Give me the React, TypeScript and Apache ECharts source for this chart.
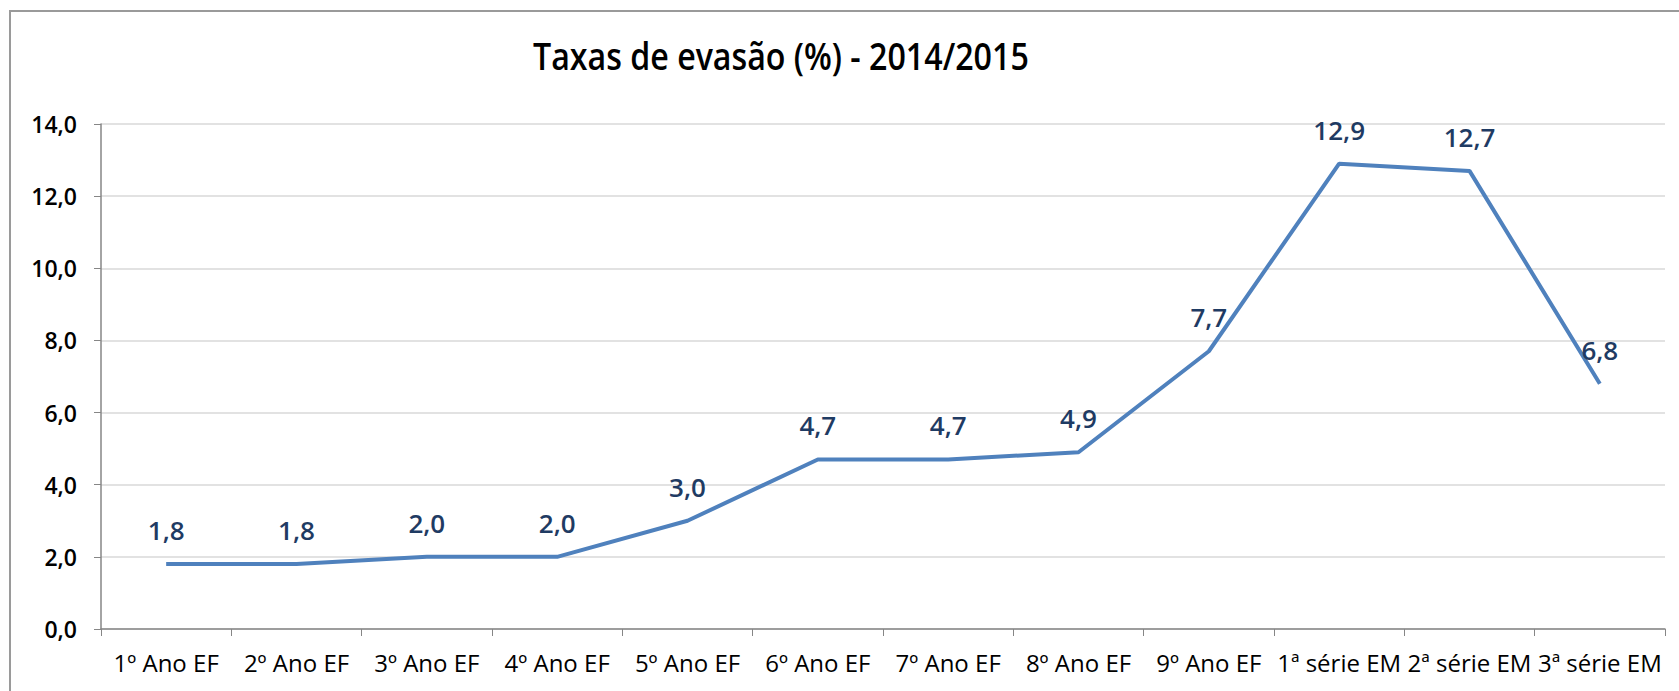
import React, { useEffect, useRef } from "react";
import * as echarts from "echarts";

const categories = [
  "1º Ano EF",
  "2º Ano EF",
  "3º Ano EF",
  "4º Ano EF",
  "5º Ano EF",
  "6º Ano EF",
  "7º Ano EF",
  "8º Ano EF",
  "9º Ano EF",
  "1ª série EM",
  "2ª série EM",
  "3ª série EM",
];
const rates = [1.8, 1.8, 2.0, 2.0, 3.0, 4.7, 4.7, 4.9, 7.7, 12.9, 12.7, 6.8];
const titleText = "Taxas de evasão (%) - 2014/2015";

const fmt = (v: number) => v.toFixed(1).replace(".", ",");
const FONT = "'Open Sans', 'Noto Sans', sans-serif";

export default function App() {
  const ref = useRef<HTMLDivElement>(null);
  useEffect(() => {
    if (!ref.current) return;
    const chart = echarts.init(ref.current, null, { renderer: "svg" });
    chart.setOption({
      animation: false,
      backgroundColor: "#ffffff",
      graphic: [
        {
          type: "rect",
          silent: true,
          shape: { x: 10, y: 11, width: 1720, height: 720 },
          style: { fill: "none", stroke: "#9a9a9a", lineWidth: 2 },
        },
        {
          type: "text",
          x: 533,
          y: 56,
          scaleX: 0.87,
          style: {
            text: titleText,
            font: `600 37px ${FONT}`,
            fill: "#000000",
            textVerticalAlign: "middle",
            verticalAlign: "middle",
          },
        },
      ],
      grid: { left: 101, right: 14, top: 124, bottom: 62 },
      xAxis: {
        type: "category",
        data: categories,
        boundaryGap: true,
        axisLine: { lineStyle: { color: "#868686", width: 1.5 } },
        axisTick: { show: true, length: 7, lineStyle: { color: "#868686" } },
        axisLabel: {
          interval: 0,
          margin: 21,
          fontFamily: FONT,
          fontSize: 24,
          color: "#000000",
        },
      },
      yAxis: {
        type: "value",
        min: 0,
        max: 14,
        interval: 2,
        axisLine: { show: true, lineStyle: { color: "#868686", width: 1.5 } },
        axisTick: { show: true, length: 7, lineStyle: { color: "#868686" } },
        splitLine: { lineStyle: { color: "#d9d9d9", width: 1.5 } },
        axisLabel: {
          margin: 24,
          fontFamily: FONT,
          fontSize: 23,
          fontWeight: 600,
          color: "#000000",
          formatter: (v: number) => fmt(v),
        },
      },
      series: [
        {
          type: "line",
          data: rates,
          symbol: "circle",
          symbolSize: 0.1,
          showSymbol: true,
          lineStyle: { color: "#4f81bd", width: 4 },
          itemStyle: { color: "#4f81bd" },
          label: {
            show: true,
            position: "top",
            distance: 21,
            fontFamily: FONT,
            fontSize: 26,
            fontWeight: 600,
            color: "#1f3b63",
            formatter: (p: any) => fmt(p.value),
          },
        },
      ],
    });
    return () => chart.dispose();
  }, []);
  return (
    <div
      ref={ref}
      style={{
        position: "fixed",
        left: 0,
        top: 0,
        width: 1679,
        height: 691,
        background: "#fff",
      }}
    />
  );
}
